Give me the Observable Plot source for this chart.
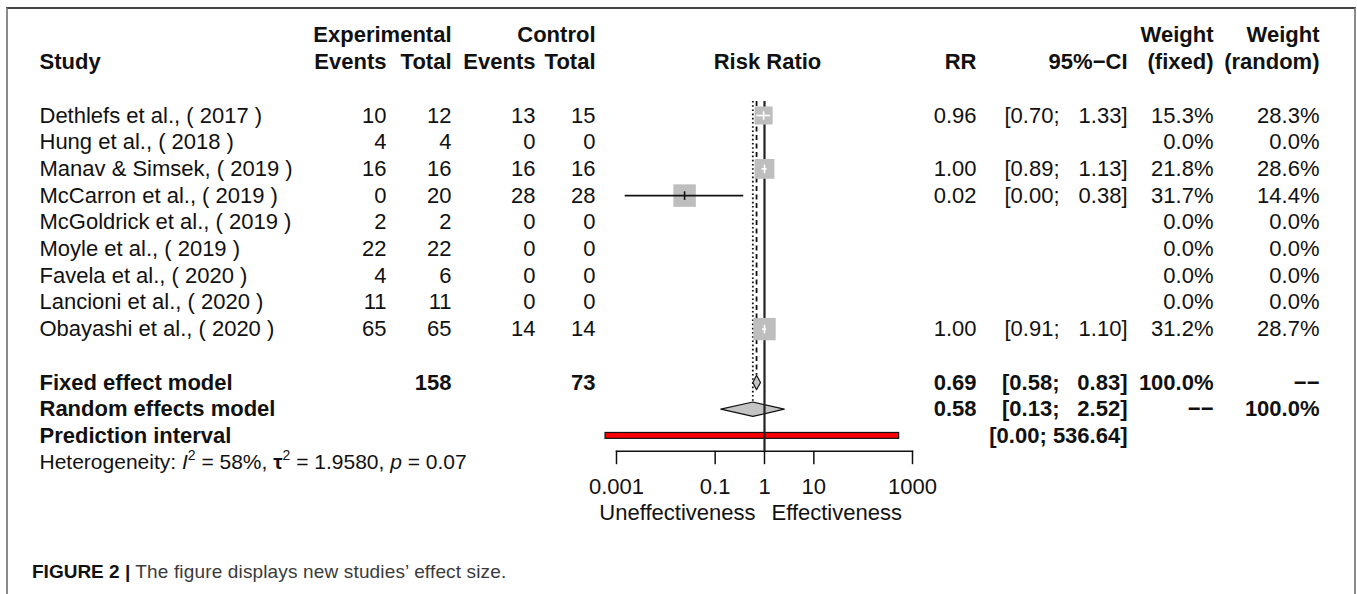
<!DOCTYPE html>
<html><head><meta charset="utf-8">
<script src="https://cdn.jsdelivr.net/npm/d3@7"></script>
<script src="https://cdn.jsdelivr.net/npm/@observablehq/plot@0.6"></script>
<style>
html,body{margin:0;padding:0;background:#fff;}
#wrap{position:relative;width:1357px;height:594px;overflow:hidden;font-family:'Liberation Sans',Arial,Helvetica,sans-serif;}
#box{position:absolute;left:6px;top:7px;width:1350px;height:640px;border-top:2px solid #444;border-left:2px solid #8a8a8a;border-right:2px solid #8a8a8a;box-sizing:border-box;}
#chart{position:absolute;left:0;top:0;}
#caption{position:absolute;left:32px;top:561px;font-size:19px;color:#3a3a3a;white-space:nowrap;letter-spacing:0.15px;}
#caption b{color:#111;font-family:'Liberation Sans Narrow','Arial Narrow','Liberation Sans',Arial,sans-serif;font-stretch:condensed;letter-spacing:0;}
</style></head><body>
<div id="wrap"><div id="box"></div><div id="chart"></div>
<div id="caption"><b>FIGURE 2 |</b> The figure displays new studies’ effect size.</div></div>
<script>
// ---------- data ----------
const studies = ["Dethlefs et al., ( 2017 )","Hung et al., ( 2018 )","Manav & Simsek, ( 2019 )","McCarron et al., ( 2019 )","McGoldrick et al., ( 2019 )","Moyle et al., ( 2019 )","Favela et al., ( 2020 )","Lancioni et al., ( 2020 )","Obayashi et al., ( 2020 )"];
const expEvents  = [10, 4, 16, 0, 2, 22, 4, 11, 65];
const expTotal   = [12, 4, 16, 20, 2, 22, 6, 11, 65];
const ctrlEvents = [13, 0, 16, 28, 0, 0, 0, 0, 14];
const ctrlTotal  = [15, 0, 16, 28, 0, 0, 0, 0, 14];
const rr      = [0.96, null, 1.00, 0.024, null, null, null, null, 1.00];
const ciLower = [0.70, null, 0.89, 0.0015, null, null, null, null, 0.91];
const ciUpper = [1.33, null, 1.13, 0.38, null, null, null, null, 1.10];
const weightFixed  = [15.3, 0, 21.8, 31.7, 0, 0, 0, 0, 31.2];
const weightRandom = [28.3, 0, 28.6, 14.4, 0, 0, 0, 0, 28.7];

const models = ["Fixed effect model", "Random effects model"];
const modelRR    = [0.69, 0.58];
const modelLower = [0.58, 0.13];
const modelUpper = [0.83, 2.52];
const modelWeightFixed  = ["100.0%", "\u2212\u2212"];
const modelWeightRandom = ["\u2212\u2212", "100.0%"];
const totalExp = 158, totalCtrl = 73;
const predictionLabel = "Prediction interval";
const predictionLower = 0.0006, predictionUpper = 536.64;
const hetI2 = "58%", hetTau2 = "1.9580", hetP = "0.07";

const refValue = 1;
const tickValues = [0.001, 0.1, 1, 10, 1000];
const tickLabels = ["0.001", "0.1", "1", "10", "1000"];
const sideLabels = ["Uneffectiveness", "Effectiveness"];

const headerTop = [
  {key: "expTotal", t: "Experimental"}, {key: "ctrlTotal", t: "Control"},
  {key: "wFixed", t: "Weight"}, {key: "wRandom", t: "Weight"}];
const headerBottom = [
  {key: "study", t: "Study"}, {key: "expEvents", t: "Events"}, {key: "expTotal", t: "Total"},
  {key: "ctrlEvents", t: "Events"}, {key: "ctrlTotal", t: "Total"}, {key: "rr", t: "RR"},
  {key: "ciHigh", t: "95%\u2212CI"}, {key: "wFixed", t: "(fixed)"}, {key: "wRandom", t: "(random)"}];

// ---------- layout ----------
const W = 1357, H = 540, ML = 616, PLOT_RIGHT = 912, MT = 101, AXIS_BOTTOM = 450.7;
const COLX = {study: 39, expEvents: 386, expTotal: 451, ctrlEvents: 535, ctrlTotal: 595,
              rr: 976, ciLow: 1059, ciHigh: 1127, wFixed: 1213, wRandom: 1319};
const FS = 22, INK = "#111";
const R_DOMAIN = [0, 32], R_RANGE = [7.87, 12.73];
const DH = 0.27;          // diamond half height (rows)
const PI_HALF = 0.11;     // prediction bar half height (rows)
const TOP_ROW = (MT - 115) / 26.7;

// ---------- derived tables ----------
const fmt2 = v => v.toFixed(2);
const studyRows = studies.map((s, i) => ({
  row: i, study: s,
  expEvents: String(expEvents[i]), expTotal: String(expTotal[i]),
  ctrlEvents: String(ctrlEvents[i]), ctrlTotal: String(ctrlTotal[i]),
  rr: rr[i], lo: ciLower[i], hi: ciUpper[i], w: weightFixed[i],
  rrText: rr[i] == null ? "" : fmt2(rr[i]),
  ciLowText: rr[i] == null ? "" : `[${fmt2(ciLower[i])};`,
  ciHighText: rr[i] == null ? "" : `${fmt2(ciUpper[i])}]`,
  wFixed: weightFixed[i].toFixed(1) + "%", wRandom: weightRandom[i].toFixed(1) + "%"
}));
const S0 = studies.length + 1;
const summaryRows = models.map((m, i) => ({
  row: S0 + i, study: m,
  expTotal: i === 0 ? String(totalExp) : "", ctrlTotal: i === 0 ? String(totalCtrl) : "",
  rr: modelRR[i], lo: modelLower[i], hi: modelUpper[i],
  rrText: fmt2(modelRR[i]), ciLowText: `[${fmt2(modelLower[i])};`, ciHighText: `${fmt2(modelUpper[i])}]`,
  wFixed: modelWeightFixed[i], wRandom: modelWeightRandom[i]
}));
const piRow = {row: S0 + 2, study: predictionLabel, lo: predictionLower, hi: predictionUpper,
  ciText: `[${fmt2(predictionLower)}; ${fmt2(predictionUpper)}]`};
const hetRow = {row: S0 + 3, t: "Heterogeneity"};

const xs = d3.scaleLog([0.001, 1000], [ML, PLOT_RIGHT]);
const rs = d3.scaleLinear(R_DOMAIN, R_RANGE);
const est = studyRows.filter(d => d.rr != null);
est.forEach(d => { d.inside = (xs(d.hi) - xs(d.lo)) < rs(d.w) * Math.sqrt(Math.PI); });

const diamondPts = models.flatMap((m, i) => {
  const r = S0 + i;
  return [[modelLower[i], r], [modelRR[i], r - DH], [modelUpper[i], r], [modelRR[i], r + DH], [modelLower[i], r]]
    .map(([x, y]) => ({model: m, x, y}));
});

const vtick = {draw(ctx, size) { const h = Math.sqrt(size / Math.PI); ctx.moveTo(0, -h); ctx.lineTo(0, h); }};

const textCol = (data, key, field, extra = {}) => Plot.text(data, {
  y: "row", text: field, frameAnchor: "left", dx: COLX[key] - ML,
  textAnchor: key === "study" ? "start" : "end", fontSize: FS, fill: INK, ...extra});

const headerMarks = [...headerTop.map(h => ({...h, row: -3})), ...headerBottom.map(h => ({...h, row: -2}))]
  .map(h => textCol([h], h.key, "t", {fontWeight: "bold"}));

const chart = Plot.plot({
  width: W, height: H,
  marginLeft: ML, marginRight: W - PLOT_RIGHT, marginTop: MT, marginBottom: H - AXIS_BOTTOM,
  style: {fontFamily: "'Liberation Sans', Arial, Helvetica, sans-serif", fontSize: "22px", color: INK, background: "transparent", overflow: "visible"},
  x: {type: "log", domain: [0.001, 1000], label: null},
  y: {type: "linear", domain: [0, 13], range: [115, 462.1], axis: null},
  r: {type: "linear", domain: R_DOMAIN, range: R_RANGE},
  marks: [
    // reference lines of pooled estimates
    Plot.ruleX([modelRR[0]], {x: d => d, y1: TOP_ROW, y2: S0 - DH, stroke: INK, strokeWidth: 1.8, strokeDasharray: "5,3.5"}),
    Plot.ruleX([modelRR[1]], {x: d => d, y1: TOP_ROW, y2: S0 + 1 - DH, stroke: INK, strokeWidth: 1.8, strokeDasharray: "1.6,2.6"}),
    // diamonds
    Plot.line(diamondPts, {x: "x", y: "y", z: "model", fill: "#c4c4c4", stroke: INK, strokeWidth: 1.2}),
    // prediction interval
    Plot.rect([piRow], {x1: "lo", x2: "hi", y1: d => d.row - PI_HALF, y2: d => d.row + PI_HALF, fill: "#ff0000", stroke: INK, strokeWidth: 1.2}),
    // no-effect line
    Plot.ruleX([refValue], {stroke: "#222", strokeWidth: 2.2}),
    // study squares
    Plot.dot(est, {x: "rr", y: "row", r: "w", symbol: "square", fill: "#bebebe", stroke: null}),
    Plot.ruleY(est.filter(d => !d.inside), {y: "row", x1: "lo", x2: "hi", stroke: INK, strokeWidth: 1.6}),
    Plot.ruleY(est.filter(d => d.inside), {y: "row", x1: "lo", x2: "hi", stroke: "#fff", strokeWidth: 1.6}),
    Plot.dot(est, {x: "rr", y: "row", symbol: vtick, r: 4.3, fill: "none", stroke: d => d.inside ? "#fff" : INK, strokeWidth: 1.6}),
    // axis
    Plot.frame({anchor: "bottom", stroke: INK, strokeWidth: 1.5}),
    Plot.axisX(tickValues, {tickFormat: d => tickLabels[tickValues.indexOf(d)], tickSize: 13.5, tickPadding: 14, fontSize: FS, strokeWidth: 1.5, stroke: INK, fill: INK, label: null}),
    Plot.text([sideLabels[0]], {x: refValue, frameAnchor: "bottom", lineAnchor: "middle", dy: 62, dx: -9, textAnchor: "end", text: d => d, fontSize: FS, fill: INK}),
    Plot.text([sideLabels[1]], {x: refValue, frameAnchor: "bottom", lineAnchor: "middle", dy: 62, dx: 7, textAnchor: "start", text: d => d, fontSize: FS, fill: INK}),
    // headers
    ...headerMarks,
    Plot.text([{row: -2, t: "Risk Ratio"}], {x: () => refValue, y: "row", text: "t", fontSize: FS, fontWeight: "bold", fill: INK, dx: 3}),
    // study rows
    textCol(studyRows, "study", "study"),
    textCol(studyRows, "expEvents", "expEvents"),
    textCol(studyRows, "expTotal", "expTotal"),
    textCol(studyRows, "ctrlEvents", "ctrlEvents"),
    textCol(studyRows, "ctrlTotal", "ctrlTotal"),
    textCol(studyRows, "rr", "rrText"),
    textCol(studyRows, "ciLow", "ciLowText"),
    textCol(studyRows, "ciHigh", "ciHighText"),
    textCol(studyRows, "wFixed", "wFixed"),
    textCol(studyRows, "wRandom", "wRandom"),
    // summary rows
    ...["study", "expTotal", "ctrlTotal"].map(k => textCol(summaryRows, k, k, {fontWeight: "bold"})),
    textCol(summaryRows, "rr", "rrText", {fontWeight: "bold"}),
    textCol(summaryRows, "ciLow", "ciLowText", {fontWeight: "bold"}),
    textCol(summaryRows, "ciHigh", "ciHighText", {fontWeight: "bold"}),
    textCol(summaryRows, "wFixed", "wFixed", {fontWeight: "bold"}),
    textCol(summaryRows, "wRandom", "wRandom", {fontWeight: "bold"}),
    textCol([piRow], "study", "study", {fontWeight: "bold"}),
    textCol([piRow], "ciHigh", "ciText", {fontWeight: "bold"}),
    textCol([hetRow], "study", "t", {fontSize: 21, className: "het"})
  ]
});
document.getElementById("chart").appendChild(chart);

const het = chart.querySelector("g.het text");
if (het) {
  het.innerHTML = `Heterogeneity: <tspan font-style="italic">I</tspan><tspan font-size="14" dy="-9">2</tspan><tspan dy="9"> = ${hetI2}, </tspan><tspan font-weight="bold">\u03c4</tspan><tspan font-size="14" dy="-9">2</tspan><tspan dy="9"> = ${hetTau2}, </tspan><tspan font-style="italic">p</tspan> = ${hetP}`;
}
</script></body></html>
